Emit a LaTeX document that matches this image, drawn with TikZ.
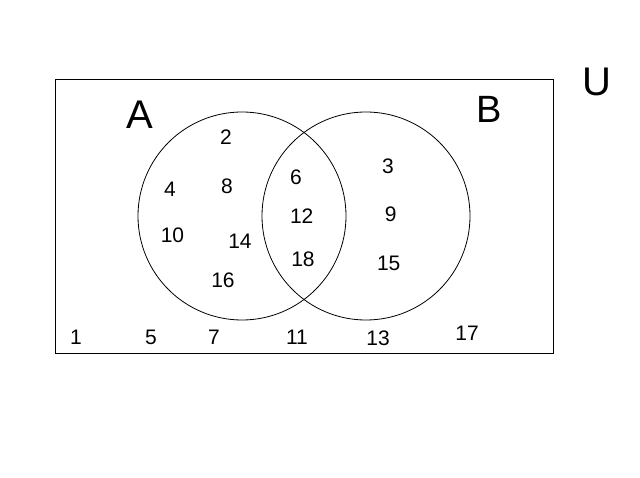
\documentclass[tikz,border=0pt]{standalone}
\usepackage{fontspec}
\setmainfont{Liberation Sans}
\begin{document}
\begin{tikzpicture}[x=1pt,y=-1pt,
  num/.style={inner sep=0pt,font=\fontsize{21}{21}\selectfont},
  setlabel/.style={inner sep=0pt,font=\fontsize{40}{40}\selectfont},
  setline/.style={draw=black,line width=0.8pt}]
\useasboundingbox (0,0) rectangle (640,478);
\node[setline,rectangle,minimum width=498pt,minimum height=274pt,inner sep=0pt] (U) at (304,216.5) {};
\node[setline,circle,minimum size=208pt,inner sep=0pt] (A) at (242,216) {};
\node[setline,circle,minimum size=208pt,inner sep=0pt] (B) at (366,216) {};
\node[setlabel] (lA) at (139.5,114.7) {A};
\node[setlabel,font=\fontsize{38}{38}\selectfont] (lB) at (489,109.5) {B};
\node[setlabel] (lU) at (596.7,82) {U};
\node[num] (n2) at (226,137.4) {2};
\node[num] (n4) at (170,189) {4};
\node[num] (n8) at (227,186) {8};
\node[num] (n10) at (172.5,235.7) {10};
\node[num] (n14) at (240,241) {14};
\node[num] (n16) at (223,280.7) {16};
\node[num] (n6) at (296,177) {6};
\node[num] (n12) at (301.7,216) {12};
\node[num] (n18) at (303,259) {18};
\node[num] (n3) at (388,166.7) {3};
\node[num] (n9) at (390.7,214.5) {9};
\node[num] (n15) at (388.7,263) {15};
\node[num] (n1) at (76,337.3) {1};
\node[num] (n5) at (151,337.3) {5};
\node[num] (n7) at (214,337.3) {7};
\node[num] (n11) at (297,337) {11};
\node[num] (n13) at (378,338) {13};
\node[num] (n17) at (467,333) {17};
\end{tikzpicture}
\end{document}
